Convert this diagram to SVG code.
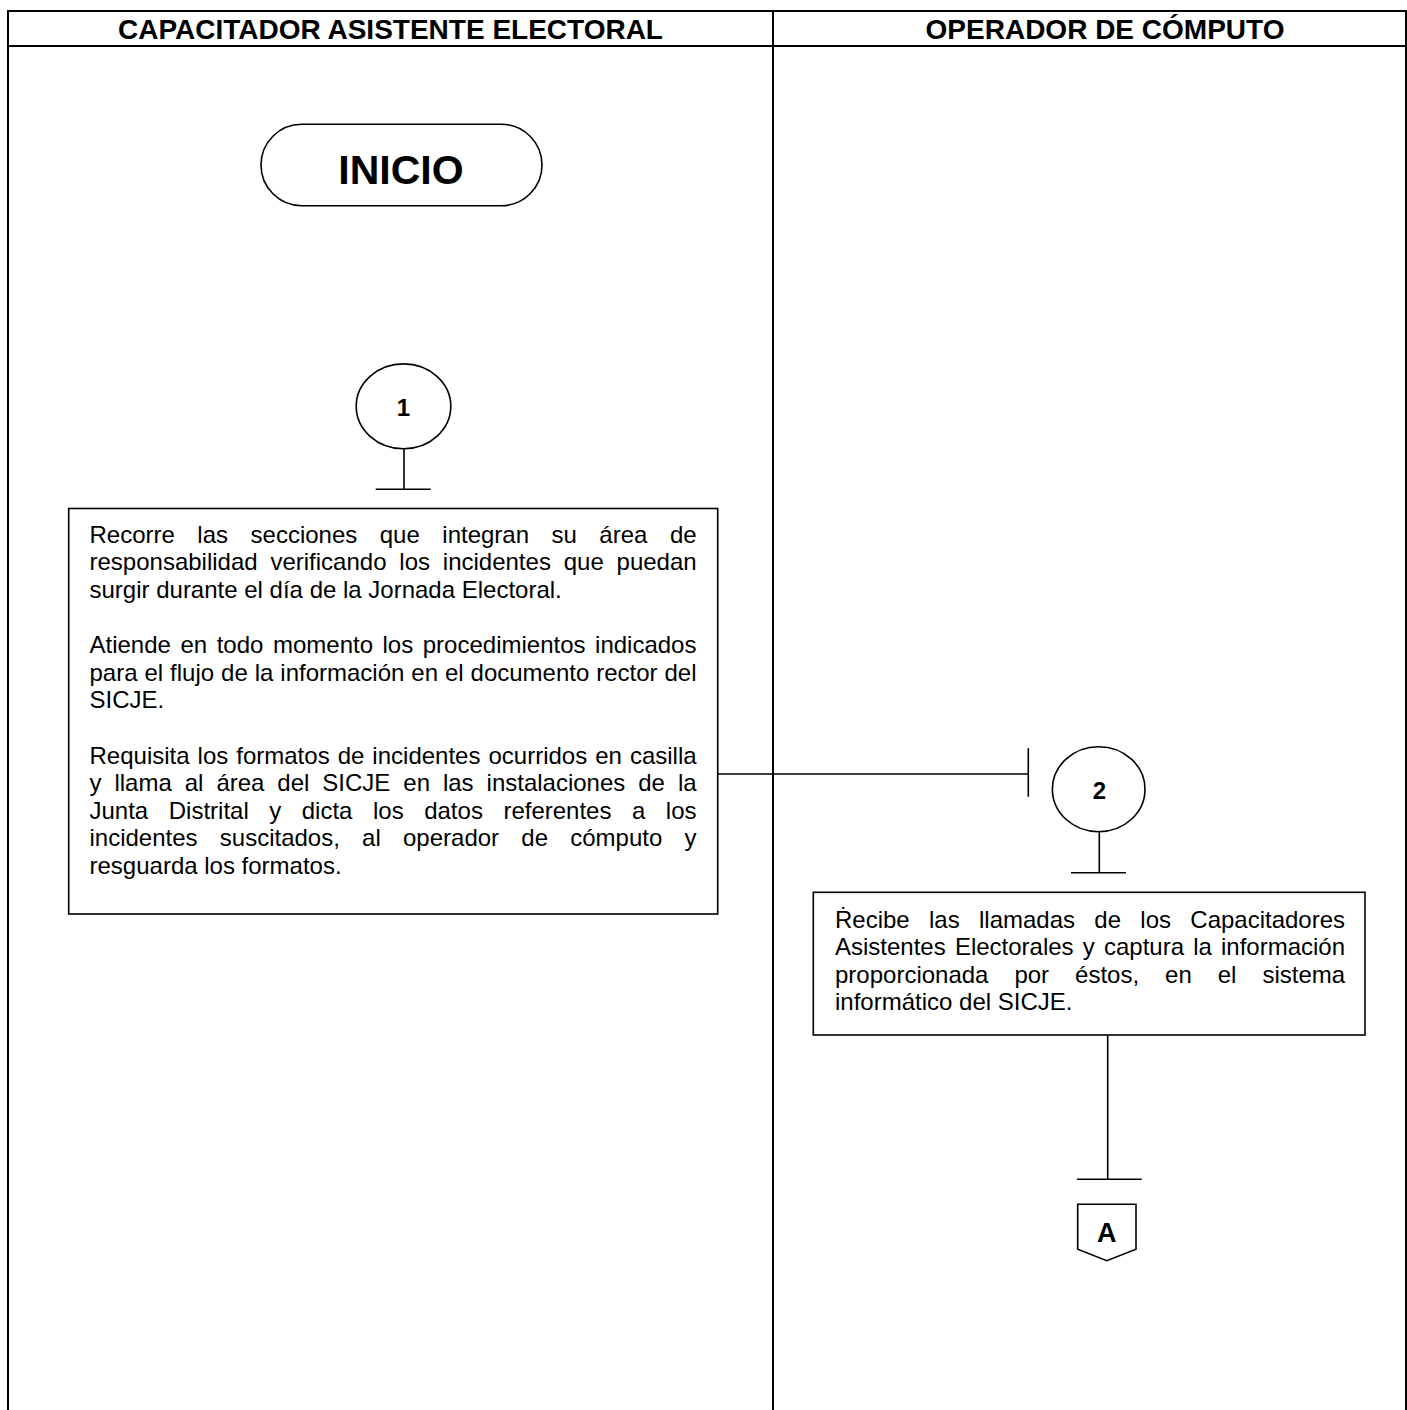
<svg xmlns="http://www.w3.org/2000/svg" width="1407" height="1410" viewBox="0 0 1407 1410">
  <style>
    .frame { stroke: #000; stroke-width: 2; fill: none; }
    .shape { stroke: #000; stroke-width: 1.6; fill: #fff; }
    .line { stroke: #000; stroke-width: 1.6; fill: none; }
    .head { font-family: "Liberation Sans", Arial, sans-serif; font-weight: bold; font-size: 28px; text-anchor: middle; fill: #000; }
    .label { font-family: "Liberation Sans", Arial, sans-serif; font-weight: bold; text-anchor: middle; fill: #000; }
    .body { font-family: "Liberation Sans", Arial, "DejaVu Sans", sans-serif; font-size: 24px; fill: #000; font-kerning: none; }
  </style>

  <rect width="1407" height="1410" fill="#fff"/>

  <!-- swimlane table -->
  <g id="lanes">
    <line class="frame" x1="8" y1="11" x2="1406" y2="11"/>
    <line class="frame" x1="8" y1="46" x2="1406" y2="46"/>
    <line class="frame" x1="8" y1="10" x2="8" y2="1410"/>
    <line class="frame" x1="773" y1="10" x2="773" y2="1410"/>
    <line class="frame" x1="1406" y1="10" x2="1406" y2="1410"/>
    <text class="head" x="390.5" y="38.5">CAPACITADOR ASISTENTE ELECTORAL</text>
    <text class="head" x="1105" y="38.5">OPERADOR DE CÓMPUTO</text>
  </g>

  <!-- connectors -->
  <g id="connectors">
    <path class="line" d="M404 448.7 V489.3 M375.7 489.3 H430.7"/>
    <path class="line" d="M717.5 774 H1028.3 M1028.3 748.3 V796.7"/>
    <path class="line" d="M1099.3 831.7 V872.7 M1071 872.7 H1126"/>
    <path class="line" d="M1107.7 1035 V1179.3 M1077 1179.3 H1141.7"/>
  </g>

  <g id="inicio">
    <rect class="shape" x="261" y="124.3" width="281" height="81.4" rx="40.7" ry="40.7"/>
    <text class="label" x="401" y="184" font-size="41">INICIO</text>
  </g>

  <g id="conector-1">
    <ellipse class="shape" cx="403.5" cy="406.3" rx="47.3" ry="42.4"/>
    <text class="label" x="403.5" y="415.5" font-size="24">1</text>
  </g>

  <g id="actividad-1">
    <rect class="shape" x="68.7" y="508.5" width="649" height="405.5"/>
    <text class="body" x="89.5" y="542.8" style="word-spacing:15.83px">Recorre las secciones que integran su área de</text>
    <text class="body" x="89.5" y="570.4" style="word-spacing:6.15px">responsabilidad verificando los incidentes que puedan</text>
    <text class="body" x="89.5" y="598">surgir durante el día de la Jornada Electoral.</text>
    <text class="body" x="89.5" y="653.2" style="word-spacing:2.88px">Atiende en todo momento los procedimientos indicados</text>
    <text class="body" x="89.5" y="680.8" style="word-spacing:0.27px">para el flujo de la información en el documento rector del</text>
    <text class="body" x="89.5" y="708.4">SICJE.</text>
    <text class="body" x="89.5" y="763.6" style="word-spacing:1.35px">Requisita los formatos de incidentes ocurridos en casilla</text>
    <text class="body" x="89.5" y="791.2" style="word-spacing:6.28px">y llama al área del SICJE en las instalaciones de la</text>
    <text class="body" x="89.5" y="818.8" style="word-spacing:13.85px">Junta Distrital y dicta los datos referentes a los</text>
    <text class="body" x="89.5" y="846.4" style="word-spacing:15.57px">incidentes suscitados, al operador de cómputo y</text>
    <text class="body" x="89.5" y="874">resguarda los formatos.</text>
  </g>

  <g id="conector-2">
    <ellipse class="shape" cx="1098.7" cy="789.2" rx="46.3" ry="42.5"/>
    <text class="label" x="1099.5" y="798.5" font-size="24">2</text>
  </g>

  <g id="actividad-2">
    <rect class="shape" x="813.3" y="892.3" width="551.7" height="142.7"/>
    <text class="body" x="835" y="927.5" style="word-spacing:12.63px">Ṙecibe las llamadas de los Capacitadores</text>
    <text class="body" x="835" y="955.1" style="word-spacing:2.5px">Asistentes Electorales y captura la información</text>
    <text class="body" x="835" y="982.7" style="word-spacing:19.3px">proporcionada por éstos, en el sistema</text>
    <text class="body" x="835" y="1010.3">informático del SICJE.</text>
  </g>

  <g id="conector-pagina-A">
    <path class="shape" d="M1077.7 1204.3 H1136 V1249.3 L1106.8 1260.7 L1077.7 1249.3 Z"/>
    <text class="label" x="1106.8" y="1241.5" font-size="27">A</text>
  </g>
</svg>
